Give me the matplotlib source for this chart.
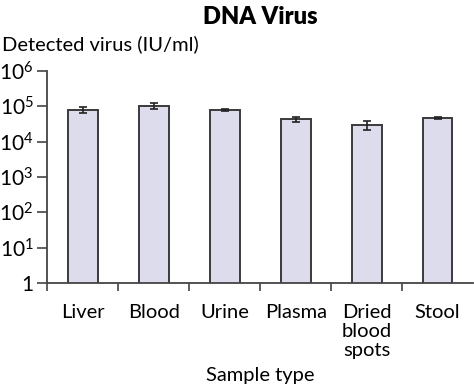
import numpy as np
import matplotlib
matplotlib.use("Agg")
import matplotlib.pyplot as plt
from matplotlib.ticker import FixedLocator

# data
samples = ['Liver', 'Blood', 'Urine', 'Plasma', 'Dried\nblood\nspots', 'Stool']
virus = [79000, 102000, 79000, 42000, 30000, 46000]
err = [15000, 20000, 4000, 6000, 9000, 2000]

plt.rcParams['font.family'] = ['Lato', 'DejaVu Sans']
plt.rcParams['mathtext.fontset'] = 'custom'
plt.rcParams['mathtext.rm'] = 'Lato'
plt.rcParams['mathtext.default'] = 'regular'

fig = plt.figure(figsize=(4.74, 3.87), dpi=100)
ax = fig.add_axes([0.1, 0.269, 0.898, 0.548])

x = np.arange(len(samples))
ax.bar(x, virus, width=0.42, color='#dcdcec', edgecolor='#3a3a3a', linewidth=1.4,
       yerr=err, error_kw=dict(ecolor='#222222', elinewidth=1.2, capsize=3, capthick=1.2))

ax.set_yscale('log')
ax.set_ylim(1, 1e6)
ax.set_xlim(-0.5, 5.5)
ax.set_yticks([1, 10, 100, 1e3, 1e4, 1e5, 1e6])
ax.set_yticklabels(['1', '$10^{1}$', '$10^{2}$', '$10^{3}$', '$10^{4}$', '$10^{5}$', '$10^{6}$'])
ax.yaxis.set_minor_locator(FixedLocator([]))

ax.set_xticks(x)
ax.set_xticklabels(samples, fontsize=14.5, va='top', linespacing=1.15)
ax.tick_params(axis='x', which='major', length=0, pad=15)
ax.xaxis.set_minor_locator(FixedLocator(np.arange(-0.5, 5.0, 1.0)))
ax.tick_params(axis='x', which='minor', length=6, width=1.2, color='#444444')
ax.tick_params(axis='y', which='major', length=7, width=1.2, color='#444444',
               labelsize=15, pad=3)

for s in ['top', 'right']:
    ax.spines[s].set_visible(False)
for s in ['left', 'bottom']:
    ax.spines[s].set_color('#444444')
    ax.spines[s].set_linewidth(1.3)

fig.text(0.55, 0.955, 'DNA Virus', ha='center', va='center', fontsize=17, fontweight='heavy')
fig.text(0.005, 0.885, 'Detected virus (IU/ml)', ha='left', va='center', fontsize=14.5)
fig.text(0.55, 0.03, 'Sample type', ha='center', va='center', fontsize=14.5)

fig.savefig('out.png', dpi=100)
